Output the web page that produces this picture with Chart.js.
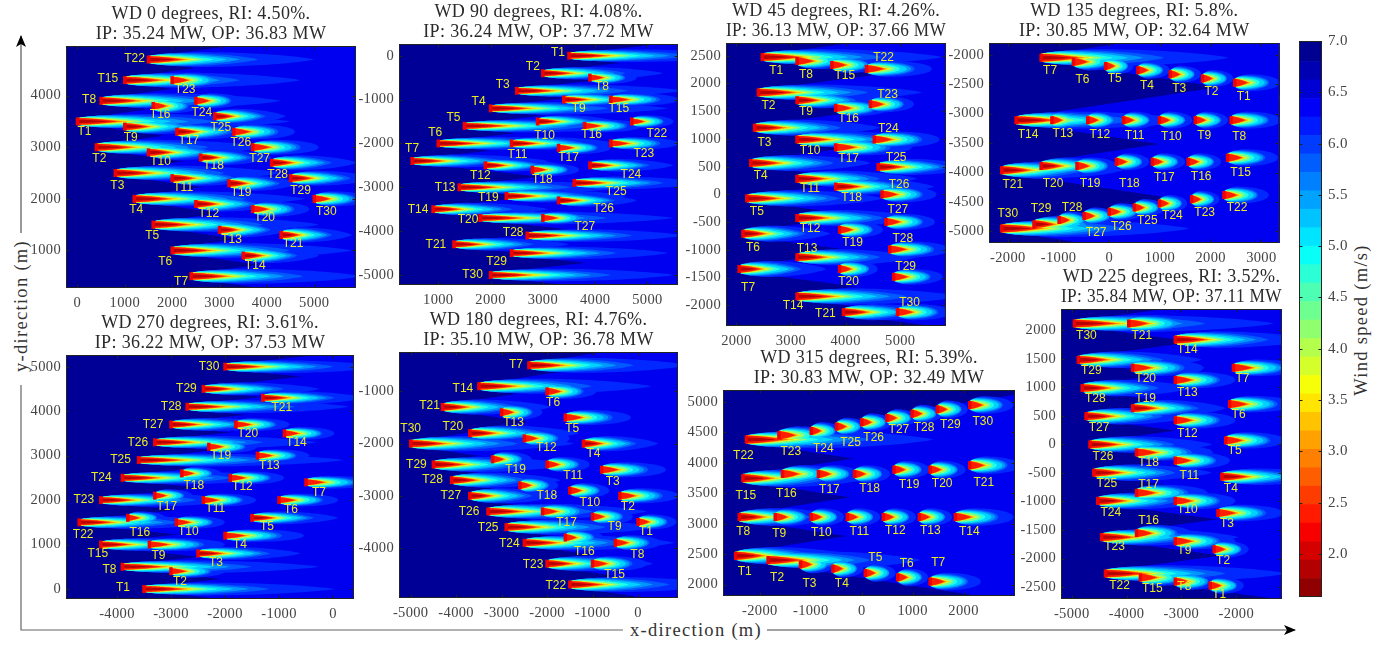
<!DOCTYPE html>
<html><head><meta charset="utf-8">
<script src="https://cdn.jsdelivr.net/npm/chart.js@4"></script>
<style>
html,body{margin:0;padding:0;background:#fff;width:1396px;height:645px;overflow:hidden}
canvas{position:absolute;display:block}
.lbl{position:absolute;font-family:"Liberation Serif",serif;font-size:18.5px;color:#333;white-space:nowrap;letter-spacing:1.3px;line-height:20px}
.rot{transform:translate(-50%,-50%) rotate(-90deg)}
#deco{position:absolute;left:0;top:0}
</style></head><body>
<svg id="deco" width="1396" height="645">
<defs><marker id="a" viewBox="0 0 12 10" refX="11" refY="5" markerWidth="12" markerHeight="10" markerUnits="userSpaceOnUse" orient="auto"><path d="M0 0L12 5L0 10L3 5Z" fill="#000"/></marker></defs>
<line x1="21" y1="233" x2="21" y2="36" stroke="#555" stroke-width="1.2" marker-end="url(#a)"/>
<polyline points="21,385 21,630 623,630" fill="none" stroke="#666" stroke-width="1.2"/>
<line x1="767" y1="630" x2="1295" y2="630" stroke="#444" stroke-width="1.2" marker-end="url(#a)"/>
</svg>
<div class="lbl rot" style="left:21px;top:306px">y-direction (m)</div>
<div class="lbl" style="left:630px;top:620px">x-direction (m)</div>
<div class="lbl rot" style="left:1361px;top:320px">Wind speed (m/s)</div>
<script>
const turbineNames=["T1","T2","T3","T4","T5","T6","T7","T8","T9","T10","T11","T12","T13","T14","T15","T16","T17","T18","T19","T20","T21","T22","T23","T24","T25","T26","T27","T28","T29","T30"];

// WD 0
const wd0X=[0,400,800,1200,1600,2000,2400,500,1000,1500,2000,2500,3000,3500,1000,1600,2100,2600,3200,3700,4300,1500,2000,2500,2900,3300,3700,4100,4500,5000];
const wd0Y=[3500,3000,2500,2000,1500,1000,500,3900,3400,2900,2400,1900,1400,900,4300,3800,3300,2800,2300,1800,1300,4700,4300,3900,3600,3300,3000,2700,2400,2000];
const wd0Wake=[4500,3600,3500,3600,3500,3800,3600,3800,2100,2000,1900,1800,1500,1600,3700,1000,1700,1500,1500,1200,1500,3500,1300,1000,1500,1300,1400,1800,1800,1200];
const wd0LabelDx=[7,3,2,2,-1,-7,-10,-12,6,12,11,13,12,12,-17,7,12,13,12,12,12,-14,13,6,6,7,7,6,10,12];
const wd0LabelDy=[10,11,13,11,11,11,5,-1,11,9,9,10,10,10,-1,9,9,8,9,9,9,-1,10,12,11,11,11,12,12,13];
const wd0TicksX=[0,1000,2000,3000,4000,5000];
const wd0TicksY=[1000,2000,3000,4000];

// WD 90
const wd90X=[3500,3000,2500,2000,1500,1000,500,3900,3400,2900,2400,1900,1400,900,4300,3800,3300,2800,2300,1800,1300,4700,4300,3900,3600,3300,3000,2700,2400,2000];
const wd90Y=[0,-400,-800,-1200,-1600,-2000,-2400,-500,-1000,-1500,-2000,-2500,-3000,-3500,-1000,-1600,-2100,-2600,-3200,-3700,-4300,-1500,-2000,-2500,-2900,-3300,-3700,-4100,-4500,-5000];
const wd90Wake=[3500,2300,3200,3400,3700,3400,2600,900,1900,1500,2000,1500,3200,2200,1300,1100,1000,900,2300,3700,2200,800,1300,1600,2500,1500,1000,3000,3000,3500];
const wd90LabelDx=[-11,-10,-14,-12,-11,-3,0,12,15,7,6,-5,-14,-15,8,7,10,10,-18,-12,-18,25,33,41,42,45,42,-14,-15,-18];
const wd90LabelDy=[-3,-7,-6,-7,-8,-11,-12,9,9,14,11,10,0,0,9,9,10,10,2,2,0,12,10,9,9,8,9,-3,9,0];
const wd90TicksX=[1000,2000,3000,4000,5000];
const wd90TicksY=[-5000,-4000,-3000,-2000,-1000,0];

// WD 45
const wd45X=[2475,2404,2333,2263,2192,2121,2051,3111,3111,3111,3111,3111,3111,3111,3748,3818,3818,3818,3889,3889,3960,4384,4455,4525,4596,4667,4738,4808,4879,4950];
const wd45Y=[2475,1838,1202,566,-71,-707,-1344,2404,1697,990,283,-424,-1131,-1838,2333,1556,849,141,-636,-1344,-2121,2263,1626,990,495,0,-495,-990,-1485,-2121];
const wd45Wake=[3300,3000,2300,2200,2500,1600,1600,1100,1500,2500,2200,2300,2200,3000,900,1000,1400,1800,800,700,1800,1200,800,1200,1800,1000,900,1100,900,1000];
const wd45LabelDx=[14,10,10,10,10,10,9,9,9,13,13,13,10,-4,13,13,13,16,13,9,-18,17,17,14,18,17,12,13,12,12];
const wd45LabelDy=[14,13,15,13,13,14,19,14,11,11,10,11,-9,9,11,11,11,11,13,13,2,-11,-10,-11,-9,-10,-12,-11,-10,-9];
const wd45TicksX=[2000,3000,4000,5000];
const wd45TicksY=[-2000,-1500,-1000,-500,0,500,1000,1500,2000,2500];

// WD 135
const wd135X=[2475,1838,1202,566,-71,-707,-1344,2404,1697,990,283,-424,-1131,-1838,2333,1556,849,141,-636,-1344,-2121,2263,1626,990,495,0,-495,-990,-1485,-2121];
const wd135Y=[-2475,-2404,-2333,-2263,-2192,-2121,-2051,-3111,-3111,-3111,-3111,-3111,-3111,-3111,-3748,-3818,-3818,-3818,-3889,-3889,-3960,-4384,-4455,-4525,-4596,-4667,-4738,-4808,-4879,-4950];
const wd135Wake=[900,610,610,630,550,1000,3700,1000,650,650,650,650,650,3500,1000,650,650,650,800,1600,2400,890,550,550,600,700,650,650,1600,3700];
const wd135LabelDx=[9,9,9,9,9,9,9,8,9,12,11,12,11,12,13,13,12,13,13,12,11,13,13,13,13,12,12,13,7,6];
const wd135LabelDy=[14,13,14,15,13,18,13,17,16,17,16,15,14,15,15,15,16,22,18,18,15,13,13,12,13,15,17,-12,-16,-15];
const wd135TicksX=[-2000,-1000,0,1000,2000,3000];
const wd135TicksY=[-5000,-4500,-4000,-3500,-3000,-2500,-2000];

// WD 270
const wd270X=[-3500,-3000,-2500,-2000,-1500,-1000,-500,-3900,-3400,-2900,-2400,-1900,-1400,-900,-4300,-3800,-3300,-2800,-2300,-1800,-1300,-4700,-4300,-3900,-3600,-3300,-3000,-2700,-2400,-2000];
const wd270Y=[0,400,800,1200,1600,2000,2400,500,1000,1500,2000,2500,3000,3500,1000,1600,2100,2600,3200,3700,4300,1500,2000,2500,2900,3300,3700,4100,4500,5000];
const wd270Wake=[3530,1000,1900,1470,1600,1100,1300,3640,1400,900,980,1000,966,930,2300,700,700,730,900,1000,1900,2700,2600,3000,3800,3000,2130,3000,2150,3000];
const wd270LabelDx=[-21,9,18,15,15,12,13,-13,9,12,12,12,12,12,-3,12,12,12,12,12,19,4,-17,-21,-18,-17,-18,-16,-17,-16];
const wd270LabelDy=[-1,10,9,9,9,10,10,3,11,9,9,9,10,9,9,15,11,12,9,9,10,12,0,0,0,0,0,0,0,0];
const wd270TicksX=[-4000,-3000,-2000,-1000,0];
const wd270TicksY=[0,1000,2000,3000,4000,5000];

// WD 180
const wd180X=[0,-400,-800,-1200,-1600,-2000,-2400,-500,-1000,-1500,-2000,-2500,-3000,-3500,-1000,-1600,-2100,-2600,-3200,-3700,-4300,-1500,-2000,-2500,-2900,-3300,-3700,-4100,-4500,-5000];
const wd180Y=[-3500,-3000,-2500,-2000,-1500,-1000,-500,-3900,-3400,-2900,-2400,-1900,-1400,-900,-4300,-3800,-3300,-2800,-2300,-1800,-1300,-4700,-4300,-3900,-3600,-3300,-3000,-2700,-2400,-2000];
const wd180Wake=[850,1300,1420,1640,1450,1085,3500,1010,890,870,940,1000,900,3800,1200,840,1200,850,860,2400,2400,3300,2330,3300,3300,3500,1960,2400,3000,3600];
const wd180LabelDx=[8,8,11,10,7,6,-13,22,22,20,26,22,12,-16,22,19,24,27,23,-17,-13,-14,-14,-15,-18,-19,-19,-19,-17,0];
const wd180LabelDy=[10,11,12,10,11,11,-1,12,10,12,11,9,10,2,11,14,11,10,10,-6,-1,1,1,1,1,0,0,0,0,-15];
const wd180TicksX=[-5000,-4000,-3000,-2000,-1000,0];
const wd180TicksY=[-4000,-3000,-2000,-1000];

// WD 315
const wd315X=[-2475,-1838,-1202,-566,71,707,1344,-2404,-1697,-990,-283,424,1131,1838,-2333,-1556,-849,-141,636,1344,2121,-2263,-1626,-990,-495,0,495,990,1485,2121];
const wd315Y=[2475,2404,2333,2263,2192,2121,2051,3111,3111,3111,3111,3111,3111,3111,3748,3818,3818,3818,3889,3889,3960,4384,4455,4525,4596,4667,4738,4808,4879,4950];
const wd315Wake=[2280,3000,700,600,600,600,1000,2000,800,650,650,650,650,1150,2500,1200,800,700,700,700,1000,3670,1200,600,600,600,600,600,600,860];
const wd315LabelDx=[9,9,9,9,10,9,8,4,4,10,12,12,11,14,3,4,11,15,15,12,14,-3,12,12,14,12,12,12,13,13];
const wd315LabelDy=[16,18,19,15,-15,-14,-19,15,17,16,15,14,14,15,17,20,16,15,15,14,17,16,17,18,16,15,12,14,15,17];
const wd315TicksX=[-2000,-1000,0,1000,2000];
const wd315TicksY=[2000,2500,3000,3500,4000,4500,5000];

// WD 225
const wd225X=[-2475,-2404,-2333,-2263,-2192,-2121,-2051,-3111,-3111,-3111,-3111,-3111,-3111,-3111,-3748,-3818,-3818,-3818,-3889,-3889,-3960,-4384,-4455,-4525,-4596,-4667,-4738,-4808,-4879,-4950];
const wd225Y=[-2475,-1838,-1202,-566,71,707,1344,-2404,-1697,-990,-283,424,1131,1838,-2333,-1556,-849,-141,636,1344,2121,-2263,-1626,-990,-495,0,495,990,1485,2121];
const wd225Wake=[615,630,1200,2000,1100,1200,1300,800,1100,1100,1000,1100,1100,2500,1100,1000,1300,1400,1700,1300,1335,3300,2500,2100,2150,2230,2000,2000,2250,3635];
const wd225LabelDx=[9,9,9,9,9,9,9,9,9,12,14,12,12,12,12,12,12,12,13,13,13,14,13,13,13,13,13,13,13,12];
const wd225LabelDy=[9,11,11,12,10,11,11,5,9,9,15,13,13,10,11,-12,-8,10,-9,11,12,12,10,12,11,12,11,11,11,12];
const wd225TicksX=[-5000,-4000,-3000,-2000];
const wd225TicksY=[-2500,-2000,-1500,-1000,-500,0,500,1000,1500,2000];

// colour bar
const barLevels=[1.58,1.76,1.94,2.12,2.30,2.48,2.66,2.84,3.02,3.20,3.38,3.56,3.74,3.92,4.10,4.28,4.46,4.64,4.82,5.00,5.18,5.36,5.54,5.72,5.90,6.08,6.26,6.44,6.62,6.80,7.00];

const panels=[
 {title:["WD 0 degrees, RI: 4.50%.","IP: 35.24 MW, OP: 36.83 MW"],xs:wd0X,ys:wd0Y,wake:wd0Wake,dx:wd0LabelDx,dy:wd0LabelDy,tx:wd0TicksX,ty:wd0TicksY,box:[66,356,46,288],xr:[-241,5881],yr:[272,4962]},
 {title:["WD 90 degrees, RI: 4.08%.","IP: 36.24 MW, OP: 37.72 MW"],xs:wd90X,ys:wd90Y,wake:wd90Wake,dx:wd90LabelDx,dy:wd90LabelDy,tx:wd90TicksX,ty:wd90TicksY,box:[399,678,44,285],xr:[249,5585],yr:[-5228,267]},
 {title:["WD 45 degrees, RI: 4.26%.","IP: 36.13 MW, OP: 37.66 MW"],xs:wd45X,ys:wd45Y,wake:wd45Wake,dx:wd45LabelDx,dy:wd45LabelDy,tx:wd45TicksX,ty:wd45TicksY,box:[726,946,43,326],xr:[1811,5837],yr:[-2371,2729]},
 {title:["WD 135 degrees, RI: 5.8%.","IP: 30.85 MW, OP: 32.64 MW"],xs:wd135X,ys:wd135Y,wake:wd135Wake,dx:wd135LabelDx,dy:wd135LabelDy,tx:wd135TicksX,ty:wd135TicksY,box:[989,1282,43,243],xr:[-2372,3358],yr:[-5197,-1801]},
 {title:["WD 270 degrees, RI: 3.61%.","IP: 36.22 MW, OP: 37.53 MW"],xs:wd270X,ys:wd270Y,wake:wd270Wake,dx:wd270LabelDx,dy:wd270LabelDy,tx:wd270TicksX,ty:wd270TicksY,box:[66,354,355,599],xr:[-4944,389],yr:[-225,5263]},
 {title:["WD 180 degrees, RI: 4.76%.","IP: 35.10 MW, OP: 36.78 MW"],xs:wd180X,ys:wd180Y,wake:wd180Wake,dx:wd180LabelDx,dy:wd180LabelDy,tx:wd180TicksX,ty:wd180TicksY,box:[399,678,352,598],xr:[-5257,879],yr:[-4958,-245]},
 {title:["WD 315 degrees, RI: 5.39%.","IP: 30.83 MW, OP: 32.49 MW"],xs:wd315X,ys:wd315Y,wake:wd315Wake,dx:wd315LabelDx,dy:wd315LabelDy,tx:wd315TicksX,ty:wd315TicksY,box:[723,1015,390,596],xr:[-2723,3010],yr:[1814,5197]},
 {title:["WD 225 degrees, RI: 3.52%.","IP: 35.84 MW, OP: 37.11 MW"],xs:wd225X,ys:wd225Y,wake:wd225Wake,dx:wd225LabelDx,dy:wd225LabelDy,tx:wd225TicksX,ty:wd225TicksY,box:[1061,1282,309,599],xr:[-5195,-1166],yr:[-2710,2375]}
];

// contour bands of one wake: colour, length share, half width (m), length exponent, rising part, minimum wake
const bands=[
 ["rgb(0,40,255)",1.00,145,1.00,.28,0],
 ["rgb(0,90,255)",.66,128,.90,.26,0],
 ["rgb(0,150,255)",.55,115,.80,.20,0],
 ["rgb(0,210,255)",.47,102,.75,.16,0],
 ["rgb(30,255,230)",.39,90,.75,.10,0],
 ["rgb(130,255,130)",.33,79,.75,.06,0],
 ["rgb(230,255,30)",.29,72,.75,.0,0],
 ["rgb(255,200,0)",.26,68,.75,.0,0],
 ["rgb(255,120,0)",.23,66,.75,.0,0],
 ["rgb(255,30,0)",.20,64,.75,.0,0],
 ["rgb(185,0,0)",.16,34,.75,.0,1500]
];
function halfWidth(s,W,p,L){
  if(s<p) return W*(.5+.5*Math.pow(s/p,.6));
  const t=(s-p)/(1-p);
  return p>0?W*Math.pow(1-t*t,L<1500?.5:.8):W*(1-Math.pow(t,1.6));
}
const wakePlugin={id:"wakes",beforeDatasetsDraw(chart,args,o){
  const {ctx,chartArea:a,scales:{x,y}}=chart,P=o.panel;
  ctx.save();ctx.beginPath();ctx.rect(a.left,a.top,a.width,a.height);ctx.clip();
  ctx.fillStyle="rgb(0,0,150)";ctx.fillRect(a.left,a.top,a.width,a.height);
  ctx.fillStyle="rgb(0,0,240)";
  P.xs.forEach((X,i)=>{const Y=P.ys[i],far=9000,k=.13,r=40;
    ctx.beginPath();
    ctx.moveTo(x.getPixelForValue(X),y.getPixelForValue(Y+r));
    ctx.lineTo(x.getPixelForValue(X+far),y.getPixelForValue(Y+r+k*far));
    ctx.lineTo(x.getPixelForValue(X+far),y.getPixelForValue(Y-r-k*far));
    ctx.lineTo(x.getPixelForValue(X),y.getPixelForValue(Y-r));
    ctx.closePath();ctx.fill();});
  bands.forEach(([col,share,W,e,p,minL])=>{
    ctx.fillStyle=col;
    P.xs.forEach((X,i)=>{
      const L=P.wake[i];if(L<minL) return;
      const len=share*3500*Math.pow(L/3500,e),Y=P.ys[i],n=32;
      ctx.beginPath();
      for(let j=0;j<=n;j++){const s=j/n;ctx.lineTo(x.getPixelForValue(X+s*len),y.getPixelForValue(Y+halfWidth(s,W,p,L)));}
      for(let j=n;j>=0;j--){const s=j/n;ctx.lineTo(x.getPixelForValue(X+s*len),y.getPixelForValue(Y-halfWidth(s,W,p,L)));}
      ctx.closePath();ctx.fill();
    });
  });
  ctx.restore();
},afterDatasetsDraw(chart,args,o){
  const {ctx}=chart,P=o.panel,meta=chart.getDatasetMeta(0);
  ctx.save();ctx.letterSpacing="0px";ctx.font="12px 'Liberation Sans'";ctx.fillStyle="#ecec20";ctx.textAlign="center";ctx.textBaseline="middle";
  meta.data.forEach((pt,i)=>ctx.fillText(turbineNames[i],pt.x+P.dx[i],pt.y+P.dy[i]));
  ctx.restore();
}};
const framePlugin={id:"frame",beforeDraw(chart){chart.ctx.letterSpacing="0.35px";},afterDraw(chart){
  const {ctx,chartArea:a,scales}=chart;
  ctx.save();ctx.strokeStyle="#222";ctx.lineWidth=1;ctx.beginPath();
  const L=Math.round(a.left)+.5,R=Math.round(a.right)-.5,T=Math.round(a.top)+.5,B=Math.round(a.bottom)-.5,t=3;
  ctx.rect(L,T,R-L,B-T);
  if(scales.x&&scales.x.options.display!==false) scales.x.ticks.forEach(k=>{const p=Math.round(scales.x.getPixelForValue(k.value))+.5;ctx.moveTo(p,B);ctx.lineTo(p,B-t);ctx.moveTo(p,T);ctx.lineTo(p,T+t);});
  scales.y.ticks.forEach(k=>{const p=Math.round(scales.y.getPixelForValue(k.value))+.5;ctx.moveTo(L,p);ctx.lineTo(L+t,p);ctx.moveTo(R,p);ctx.lineTo(R-t,p);});
  ctx.stroke();ctx.restore();
}};
const tickFont={family:"'Liberation Serif',serif",size:14.5};
const ML=60,MB=30,MT=42;
panels.forEach(P=>{
  const [l,r,t,b]=P.box,c=document.createElement("canvas");
  c.width=r-l+ML;c.height=b-t+MB+MT;c.style.left=(l-ML)+"px";c.style.top=(t-MT)+"px";
  c.style.width=c.width+"px";c.style.height=c.height+"px";document.body.appendChild(c);
  new Chart(c,{type:"scatter",
    data:{datasets:[{data:P.xs.map((X,i)=>({x:X,y:P.ys[i]})),pointStyle:"line",rotation:90,radius:4,borderWidth:3.5,borderColor:"#f00000",backgroundColor:"#f00000"}]},
    plugins:[wakePlugin,framePlugin],
    options:{responsive:false,animation:false,devicePixelRatio:1,layout:{padding:0,autoPadding:false},events:[],
      plugins:{legend:{display:false},tooltip:{enabled:false},wakes:{panel:P},
        title:{display:true,text:P.title,fullSize:false,color:"#2a2a2a",padding:{top:0,bottom:2},font:{family:"'Liberation Serif',serif",size:18,weight:"normal",lineHeight:"20px"}}},
      scales:{
        x:{type:"linear",min:P.xr[0],max:P.xr[1],grid:{display:false,drawTicks:false},border:{display:false},afterFit(s){s.height=MB;},
           afterBuildTicks(s){s.ticks=P.tx.map(v=>({value:v}));},
           ticks:{autoSkip:false,maxRotation:0,padding:6,color:"#444",font:tickFont,callback:v=>String(v)}},
        y:{type:"linear",min:P.yr[0],max:P.yr[1],grid:{display:false,drawTicks:false},border:{display:false},afterFit(s){s.width=ML;},
           afterBuildTicks(s){s.ticks=P.ty.map(v=>({value:v}));},
           ticks:{autoSkip:false,padding:5,color:"#444",font:tickFont,callback:v=>String(v)}}
      }}});
});
(function(){
  const c=document.createElement("canvas");c.width=60;c.height=575;c.style.left="1299px";c.style.top="31px";c.style.width="60px";c.style.height="575px";document.body.appendChild(c);
  function jet(t){const f=v=>Math.round(255*Math.max(0,Math.min(1,v)));return `rgb(${f(1.5-Math.abs(4*t-3))},${f(1.5-Math.abs(4*t-2))},${f(1.5-Math.abs(4*t-1))})`;}
  const ds=[];for(let i=0;i<barLevels.length-1;i++){ds.push({data:[[barLevels[i],barLevels[i+1]]],backgroundColor:jet(1-(i+.5)/(barLevels.length-1)),grouped:false,barPercentage:1,categoryPercentage:1,borderWidth:0});}
  new Chart(c,{type:"bar",data:{labels:["v"],datasets:ds},plugins:[framePlugin],
    options:{responsive:false,animation:false,devicePixelRatio:1,events:[],layout:{padding:{top:10,bottom:9,left:0,right:0},autoPadding:false},
      plugins:{legend:{display:false},tooltip:{enabled:false}},
      scales:{x:{display:false},
        y:{position:"right",min:1.58,max:7.0,grid:{display:false,drawTicks:false},border:{display:false},afterFit(s){s.width=37;s.paddingTop=0;s.paddingBottom=0;},
          ticks:{stepSize:.5,includeBounds:false,autoSkip:false,padding:6,color:"#444",font:{family:"'Liberation Serif',serif",size:15},callback:v=>v.toFixed(1)}}}}});
})();
</script>
</body></html>
